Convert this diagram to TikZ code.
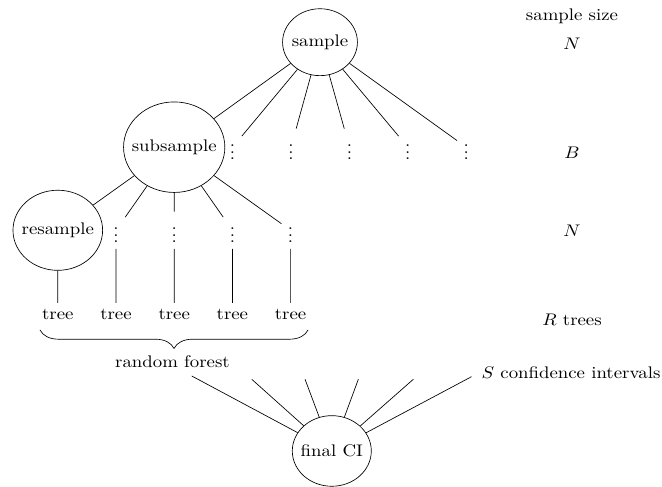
\documentclass[tikz,border=0pt]{standalone}
\usetikzlibrary{decorations.pathreplacing}
\begin{document}
\begin{tikzpicture}[x=0.5319pt, y=-0.5952pt, xscale=1.1191, transform shape,
  unit/.style={circle, draw, line width=0.4pt},
  gap/.style={inner sep=3.33pt},
  leaf/.style={},
  label/.style={},
  link/.style={line width=0.4pt},
  curly/.style={decorate, decoration={brace, mirror, amplitude=11pt}, line width=0.4pt}]
\useasboundingbox (0,0) rectangle (662,487);

% top of the hierarchy
\node[unit] (sample) at (320,42.2) {sample};
\node[unit] (sub) at (174.2,147.2) {subsample};
\foreach \i/\x in {1/232.6, 2/291, 3/349.4, 4/407.8, 5/466.2}
  \node[gap] (g\i) at (\x,147.2) {$\vdots$};

% resampling level
\node[unit] (res) at (57.8,230.3) {resample};
\foreach \i/\x in {1/116, 2/174.2, 3/232.4, 4/290.6}
  \node[gap] (h\i) at (\x,230.3) {$\vdots$};

% trees
\foreach \i/\x in {1/57.8, 2/116, 3/174.2, 4/232.4, 5/290.6}
  \node[leaf] (t\i) at (\x,314) {tree};

\node[leaf] (rf) at (172.5,362) {random forest};
\node[unit] (ci) at (331.8,451) {final CI};

% level annotations
\node[label] (lsize) at (572,15.8) {sample size};
\node[label] (lN) at (572,44) {$N$};
\node[label] (lB) at (572,152.6) {$B$};
\node[label] (lN2) at (572,231) {$N$};
\node[label] (lR) at (572,320.3) {$R$ trees};
\node[label] (lS) at (571,373) {$S$ confidence intervals};

% edges
\draw[link] (sample) -- (sub);
\foreach \i in {1,...,5} \draw[link] (sample) -- (g\i);
\draw[link] (sub) -- (res);
\foreach \i in {1,...,4} \draw[link] (sub) -- (h\i);
\draw[link] (res) -- (t1);
\foreach \i/\j in {1/2, 2/3, 3/4, 4/5} \draw[link] (h\i) -- (t\j);

% brace under the trees
\coordinate (bl) at (40,330);
\coordinate (br) at (308,330);
\draw[curly] (bl) -- (br);

% confidence intervals feeding the final CI
\coordinate (c1) at (191.7,376);
\coordinate (c2) at (251.7,379.3);
\coordinate (c3) at (305,379.3);
\coordinate (c4) at (358.3,379.3);
\coordinate (c5) at (413.3,379.3);
\coordinate (c6) at (471.5,376.7);
\foreach \i in {1,...,6} \draw[link] (c\i) -- (ci);
\end{tikzpicture}
\end{document}
